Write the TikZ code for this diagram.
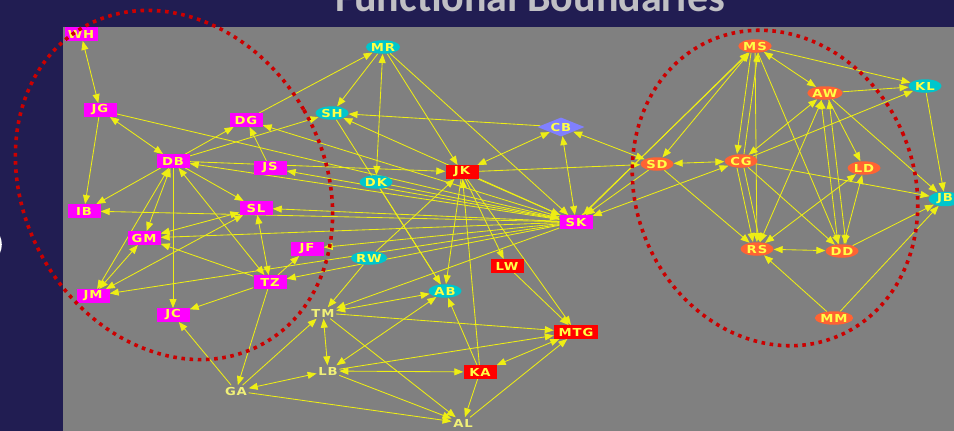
\documentclass[tikz,border=0pt]{standalone}
\usepackage{fontspec}
\usetikzlibrary{arrows.meta,shapes.geometric}
\newfontfamily\titlefont{Carlito}
\newfontfamily\lblfont{DejaVu Sans}[FakeStretch=1.2,LetterSpace=8]

\definecolor{navy}{RGB}{33,29,82}
\definecolor{panelgray}{RGB}{128,128,128}
\definecolor{titlegray}{RGB}{192,192,196}
\definecolor{magfill}{RGB}{255,0,255}
\definecolor{redfill}{RGB}{255,0,0}
\definecolor{cyanfill}{RGB}{0,198,204}
\definecolor{orangefill}{RGB}{255,99,51}
\definecolor{cbfill}{RGB}{128,128,255}
\definecolor{lblyellow}{RGB}{255,255,70}
\definecolor{palelbl}{RGB}{240,240,120}
\definecolor{edgeyellow}{RGB}{238,238,20}
\definecolor{dotred}{RGB}{204,0,0}

\pgfdeclarelayer{back}
\pgfdeclarelayer{edges}
\pgfsetlayers{back,edges,main}

\begin{document}
\begin{tikzpicture}[x=1pt,y=-1pt,
  lbox/.style={rectangle, minimum width=33pt, minimum height=13.5pt, inner sep=0pt,
    text=lblyellow, font=\lblfont\bfseries\fontsize{11}{11}\selectfont},
  magbox/.style={lbox, fill=magfill},
  redbox/.style={lbox, fill=redfill},
  cynode/.style={lbox, ellipse, fill=cyanfill},
  ornode/.style={lbox, ellipse, fill=orangefill},
  cbnode/.style={lbox, diamond, aspect=2.4, fill=cbfill, minimum width=47pt, minimum height=19pt},
  bare/.style={inner sep=1.5pt, text=palelbl, font=\lblfont\bfseries\fontsize{11}{11}\selectfont},
  conn/.style={draw=edgeyellow, line width=0.85pt, -{Triangle[length=9pt,width=7pt]}},
  both/.style={conn, {Triangle[length=9pt,width=7pt]}-{Triangle[length=9pt,width=7pt]}},
  boundary/.style={draw=dotred, line width=3.6pt, dash pattern=on 3.6pt off 4.6pt}
]
\useasboundingbox (0,0) rectangle (954,431);
\begin{pgfonlayer}{back}
  \fill[navy] (0,0) rectangle (954,431);
  \fill[panelgray] (63,27) rectangle (954,431);
  % fragment of a glyph at the left edge
  \fill[white] (0,236) .. controls (2.4,241) and (2.4,248) .. (0,253) -- cycle;
\end{pgfonlayer}

\node[anchor=base, text=titlegray, font=\titlefont\bfseries\fontsize{42}{42}\selectfont] (title) at (530,12) {Functional Boundaries};

% left group
\node[magbox] (WH) at (81,34) {WH};
\node[magbox] (JG) at (100,110) {JG};
\node[magbox] (DG) at (246,120) {DG};
\node[magbox] (DB) at (173,161) {DB};
\node[magbox] (JS) at (270,168) {JS};
\node[magbox] (IB) at (84,211) {IB};
\node[magbox] (SL) at (256,208) {SL};
\node[magbox] (GM) at (144,238) {GM};
\node[magbox] (JF) at (307,249) {JF};
\node[magbox] (TZ) at (270,282) {TZ};
\node[magbox] (JM) at (93,296) {JM};
\node[magbox] (JC) at (173,315) {JC};

% centre
\node[cynode] (MR) at (383,47) {MR};
\node[cynode] (SH) at (332,113) {SH};
\node[cynode] (DK) at (376,182) {DK};
\node[cynode] (RW) at (369,258) {RW};
\node[cynode] (AB) at (445,291) {AB};
\node[cbnode] (CB) at (561,127) {CB};
\node[redbox] (JK) at (462,172) {JK};
\node[redbox] (LW) at (507,266) {LW};
\node[redbox, minimum width=44pt] (MTG) at (576,332) {MTG};
\node[redbox] (KA) at (480,372) {KA};
\node[magbox] (SK) at (576,222) {SK};
\node[bare] (GA) at (236,391) {GA};
\node[bare] (TM) at (323,313) {TM};
\node[bare] (LB) at (328,371) {LB};
\node[bare] (AL) at (463,423) {AL};

% right group
\node[ornode] (SD) at (657,164) {SD};
\node[ornode] (CG) at (741,161) {CG};
\node[ornode] (MS) at (755,46) {MS};
\node[ornode] (AW) at (825,93) {AW};
\node[cynode] (KL) at (925,86) {KL};
\node[ornode] (LD) at (864,168) {LD};
\node[cynode] (JB) at (945,199) {JB};
\node[ornode] (RS) at (757,249) {RS};
\node[ornode] (DD) at (842,251) {DD};
\node[ornode] (MM) at (834,318) {MM};

\begin{pgfonlayer}{edges}
  % left group
  \draw[both] (WH) -- (JG);
  \draw[conn] (JG) -- (IB);
  \draw[both] (JG) -- (DB);
  \draw[conn] (JG) -- (SK);
  \draw[conn] (DB) -- (DG);
  \draw[conn] (JS) -- (DG);
  \draw[conn] (SK) -- (DG);
  \draw[conn] (DG) -- (MR);
  \draw[conn] (DB) -- (SH);
  \draw[conn] (SK) -- (DB);
  \draw[conn] (SK) -- (JS);
  \draw[conn] (DB) -- (IB);
  \draw[conn] (SK) -- (IB);
  \draw[conn] (DB) -- (SL);
  \draw[conn] (SK) -- (SL);
  \draw[both] (DB) -- (GM);
  \draw[both] (DB) -- (JM);
  \draw[conn] (DB) -- (JC);
  \draw[both] (DB) -- (TZ);
  \draw[both] (SL) -- (GM);
  \draw[both] (SL) -- (JM);
  \draw[both] (SL) -- (TZ);
  \draw[conn] (SK) -- (GM);
  \draw[both] (GM) -- (JM);
  \draw[conn] (TZ) -- (GM);
  \draw[conn] (SK) -- (JM);
  \draw[conn] (TZ) -- (JC);
  \draw[conn] (TZ) -- (JF);
  \draw[conn] (TZ) -- (GA);
  \draw[conn] (SK) -- (TZ);
  \draw[conn] (SK) -- (JF);
  \draw[conn] (GA) -- (JC);
  \draw[conn] (DB) -- (JK);
  % centre
  \draw[conn] (MR) -- (SH);
  \draw[both] (MR) -- (DK);
  \draw[conn] (MR) -- (JK);
  \draw[conn] (MR) -- (SK);
  \draw[conn] (CB) -- (SH);
  \draw[conn] (SK) -- (SH);
  \draw[conn] (SH) -- (AB);
  \draw[conn] (DK) -- (AB);
  \draw[conn] (DK) -- (SK);
  \draw[conn] (JK) -- (AB);
  \draw[conn] (JK) -- (LW);
  \draw[conn] (JK) -- (MTG);
  \draw[conn] (KA) -- (JK);
  \draw[conn] (RW) -- (JK);
  \draw[conn] (RW) -- (TM);
  \draw[both] (CB) -- (JK);
  \draw[both] (CB) -- (SK);
  \draw[both] (CB) -- (SD);
  \draw[conn] (JK) -- (SD);
  \draw[conn] (JK) -- (SK);
  % lower part
  \draw[both] (GA) -- (LB);
  \draw[conn] (GA) -- (TM);
  \draw[conn] (GA) -- (AL);
  \draw[both] (TM) -- (LB);
  \draw[both] (TM) -- (AB);
  \draw[conn] (SK) -- (TM);
  \draw[conn] (TM) -- (MTG);
  \draw[conn] (TM) -- (AL);
  \draw[both] (LB) -- (KA);
  \draw[conn] (LB) -- (MTG);
  \draw[both] (AB) -- (LB);
  \draw[conn] (LB) -- (AL);
  \draw[conn] (KA) -- (AL);
  \draw[conn] (AL) -- (MTG);
  \draw[both] (KA) -- (MTG);
  \draw[conn] (KA) -- (AB);
  \draw[conn] (LW) -- (MTG);
  % right group
  \draw[both] (SD) -- (CG);
  \draw[both] (MS) -- (SD);
  \draw[conn] (SD) -- (SK);
  \draw[conn] (SD) -- (RS);
  \draw[both] (SK) -- (CG);
  \draw[both] (SK) -- (MS);
  \draw[conn] ([xshift=6pt]SK.north) -- ([xshift=-6pt]MS.south);
  \draw[conn] ([xshift=-4pt]MS.south) -- ([xshift=-4pt]CG.north);
  \draw[conn] ([xshift=3pt]CG.north) -- ([xshift=3pt]MS.south);
  \draw[both] (MS) -- (AW);
  \draw[conn] (MS) -- (KL);
  \draw[conn] (MS) -- (RS);
  \draw[conn] (MS) -- (DD);
  \draw[conn] (AW) -- (KL);
  \draw[both] (AW) -- (CG);
  \draw[both] (AW) -- (RS);
  \draw[both] ([xshift=-4pt]AW.south) -- ([xshift=-4pt]DD.north);
  \draw[both] ([xshift=4pt]AW.south) -- ([xshift=4pt]DD.north);
  \draw[conn] (AW) -- (LD);
  \draw[conn] (AW) -- (JB);
  \draw[conn] (KL) -- (JB);
  \draw[conn] (CG) -- (KL);
  \draw[conn] ([xshift=-4pt]CG.south) -- ([xshift=-4pt]RS.north);
  \draw[conn] ([xshift=3pt]CG.south) -- ([xshift=3pt]RS.north);
  \draw[conn] (CG) -- (DD);
  \draw[conn] (CG) -- (JB);
  \draw[both] (LD) -- (RS);
  \draw[both] (LD) -- (DD);
  \draw[both] (RS) -- (DD);
  \draw[conn] (MM) -- (RS);
  \draw[conn] (MM) -- (JB);
  \draw[conn] (DD) -- (JB);
\end{pgfonlayer}

% dotted group boundaries
\draw[boundary, rotate around={30:(174,185)}] (174,185) ellipse (150 and 182);
\draw[boundary, rotate around={23.5:(775,188)}] (775,188) ellipse (139 and 161);
\end{tikzpicture}
\end{document}
